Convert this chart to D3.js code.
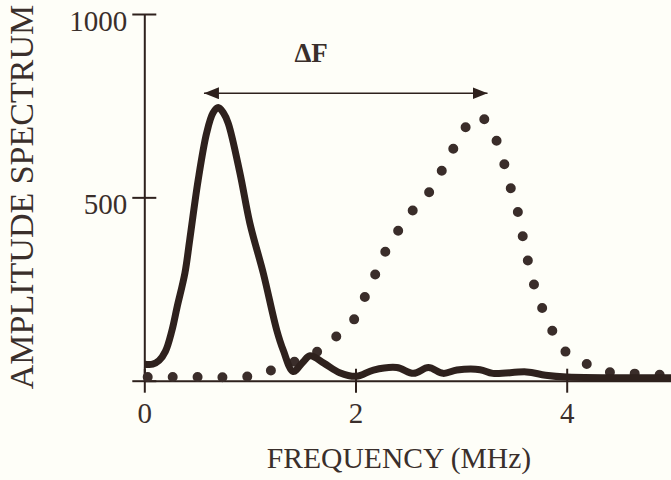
<!DOCTYPE html>
<html lang="en">
<head>
    <meta charset="UTF-8">
    <title>Amplitude spectrum</title>
    <script src="https://d3js.org/d3.v7.min.js"></script>
    <style>
        html, body { margin: 0; padding: 0; background: #fefef8; }
        svg { display: block; }
    </style>
</head>
<body>
    <div id="chart"></div>
    <script>
        // solid curve (pulse spectrum before), MHz / amplitude
        const solidFreq = [0, 0.08, 0.14, 0.2, 0.26, 0.31, 0.385, 0.43, 0.51, 0.59, 0.65, 0.70, 0.75, 0.795, 0.906, 1.0, 1.127, 1.254, 1.316, 1.41, 1.5, 1.57, 1.7, 1.85, 2.01, 2.17, 2.39, 2.55, 2.69, 2.83, 2.96, 3.18, 3.3, 3.62, 3.8, 4.0, 5.0];
        const solidAmp = [45, 45, 55, 80, 135, 200, 294, 384, 547, 675, 730, 745, 730, 702, 566, 429, 293, 138, 83, 25, 50, 68, 48, 22, 12, 29, 36, 20, 36, 20, 29, 30, 20, 24, 15, 10, 8];

        // dotted curve (shifted spectrum)
        const dotFreq = [0, 0.5, 1.0, 1.17, 1.45, 1.73, 1.86, 2.0, 2.1, 2.21, 2.32, 2.45, 2.59, 2.72, 2.85, 2.98, 3.1, 3.18, 3.27, 3.38, 3.44, 3.52, 3.57, 3.62, 3.68, 3.76, 3.87, 4.0, 4.16, 4.35, 4.6, 5.0];
        const dotAmp = [10, 10, 12, 25, 55, 95, 134, 172, 236, 304, 373, 427, 482, 522, 591, 660, 712, 722, 691, 622, 552, 481, 413, 343, 272, 204, 133, 76, 50, 26, 20, 15];

        const xTicks = [0, 2, 4];
        const yTicks = [0, 500, 1000];
        const deltaFreq = [0.565, 3.25];   // arrow ends
        const deltaAmp = 784;
        const deltaLabel = "ΔF";
        const deltaLabelAt = [1.58, 869];

        const width = 671, height = 480;
        const ink = "#2e211d";
        const textInk = "#3a2f2b";
        const font = "'Liberation Serif', 'Times New Roman', serif";

        const x = d3.scaleLinear().domain([0, 5]).range([144.3, 672.3]);
        const y = d3.scaleLinear().domain([0, 1000]).range([380.7, 14]);

        const svg = d3.select('#chart').append('svg')
            .attr('width', width)
            .attr('height', height);

        svg.append('defs').append('marker')
            .attr('id', 'head')
            .attr('viewBox', '0 0 15 12')
            .attr('refX', 15).attr('refY', 6)
            .attr('markerWidth', 15).attr('markerHeight', 12)
            .attr('markerUnits', 'userSpaceOnUse')
            .attr('orient', 'auto-start-reverse')
            .append('path')
            .attr('d', 'M0,0L15,6L0,12Z')
            .attr('fill', ink);

        // x axis, ticks crossing the line
        const xAxis = svg.append('g')
            .attr('transform', `translate(0,${y(0)})`)
            .call(d3.axisBottom(x).tickValues(xTicks).tickFormat(d3.format('d'))
                .tickSizeInner(12).tickSizeOuter(0).tickPadding(10));
        xAxis.selectAll('.tick line').attr('y1', -12);

        const yAxis = svg.append('g')
            .attr('transform', `translate(${x(0)},0)`)
            .call(d3.axisLeft(y).tickValues(yTicks).tickSizeInner(12).tickSizeOuter(0).tickPadding(5)
                .tickFormat(d => d === 0 ? '' : d));
        yAxis.selectAll('.tick line').attr('x1', 12);
        yAxis.selectAll('.tick text').attr('dy', '0.56em');

        svg.selectAll('.domain, .tick line').attr('stroke', ink).attr('stroke-width', 2);
        svg.selectAll('.tick text')
            .attr('fill', textInk)
            .style('font-family', font)
            .style('font-size', '29px');

        // dotted spectrum
        const dotData = dotFreq.map((f, i) => [f, dotAmp[i]]);
        const line = d3.line().x(d => x(d[0])).y(d => y(d[1])).curve(d3.curveCatmullRom);
        svg.append('path')
            .attr('d', line(dotData))
            .attr('fill', 'none')
            .attr('stroke', '#3a2d2a')
            .attr('stroke-width', 10)
            .attr('stroke-linecap', 'round')
            .attr('stroke-dasharray', '0 24.8')
            .attr('stroke-dashoffset', -3.7);

        // solid spectrum
        const solidData = solidFreq.map((f, i) => [f, solidAmp[i]]);
        svg.append('path')
            .attr('d', line(solidData))
            .attr('fill', 'none')
            .attr('stroke', ink)
            .attr('stroke-width', 7)
            .attr('stroke-linejoin', 'round');

        // delta F arrow
        svg.append('line')
            .attr('x1', x(deltaFreq[0])).attr('x2', x(deltaFreq[1]))
            .attr('y1', y(deltaAmp)).attr('y2', y(deltaAmp))
            .attr('stroke', ink)
            .attr('stroke-width', 1.6)
            .attr('marker-start', 'url(#head)')
            .attr('marker-end', 'url(#head)');

        svg.append('text')
            .attr('x', x(deltaLabelAt[0]))
            .attr('y', y(deltaLabelAt[1]))
            .attr('text-anchor', 'middle')
            .attr('fill', textInk)
            .style('font-family', font)
            .style('font-weight', 'bold')
            .style('font-size', '27px')
            .text(deltaLabel);

        // axis titles
        svg.append('text')
            .attr('x', 399)
            .attr('y', 468)
            .attr('text-anchor', 'middle')
            .attr('fill', textInk)
            .style('font-family', font)
            .style('font-size', '29.6px')
            .text('FREQUENCY (MHz)');

        svg.append('text')
            .attr('transform', 'translate(33,197) rotate(-90)')
            .attr('text-anchor', 'middle')
            .attr('fill', textInk)
            .style('font-family', font)
            .style('font-size', '34px')
            .text('AMPLITUDE SPECTRUM');
    </script>
</body>
</html>
